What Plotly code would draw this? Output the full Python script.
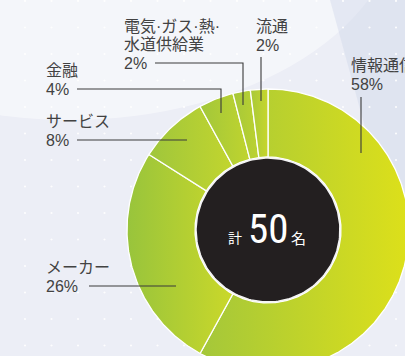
import numpy as np
import plotly.graph_objects as go

# ---- data ----
categories = ["情報通信", "メーカー", "サービス", "金融", "電気・ガス・熱・水道供給業", "流通"]
label_lines = [["情報通信"], ["メーカー"], ["サービス"], ["金融"],
               ["電気·ガス·熱·", "水道供給業"], ["流通"]]
values = [58, 26, 8, 4, 2, 2]
total_people = 50

# ---- style / layout config ----
W, H = 405, 356
CX, CY = 268, 230
R_OUT, R_IN = 141, 73
grad = [("#a4c73a", "#dde01a"), ("#98c43c", "#cad82a"), ("#9fc63c", "#c2d52e"),
        ("#a2c73b", "#c0d42e"), ("#a6c83a", "#bcd230"), ("#a8c93a", "#c6d62c")]
# (x of text, y-center of last (percent) line)
label_pos = [(349, 84), (44, 286), (44, 140), (44, 89), (122, 63), (254, 45)]
LINE_H = 18.5
leaders = [
    [(361, 97), (361, 153)],
    [(89, 286), (176, 286)],
    [(77, 140), (187, 140)],
    [(77, 89), (221, 89), (221, 113)],
    [(155, 63), (243, 63), (243, 105)],
    [(261, 57), (261, 101)],
]
TEXT_COLOR = "#424242"
FONT = "Liberation Sans, Noto Sans CJK JP, sans-serif"
CJK = "Noto Sans CJK JP"

fig = go.Figure()

# background dots
dx = np.arange(25, W, 26.5)
dy = np.arange(1, H, 26.5)
gx, gy = np.meshgrid(dx, dy)
fig.add_trace(go.Scatter(x=gx.ravel(), y=gy.ravel(), mode="markers",
                         marker=dict(size=2.2, color="white"), opacity=0.9,
                         hoverinfo="skip", showlegend=False))

# donut slices (clockwise from top)
frac = np.array(values, dtype=float) / sum(values)
ends = np.cumsum(frac) * 2 * np.pi
starts = ends - frac * 2 * np.pi
for i, (a0, a1) in enumerate(zip(starts, ends)):
    t = np.linspace(a0, a1, max(8, int((a1 - a0) * 80)))
    xo = CX + R_OUT * np.sin(t)
    yo = CY - R_OUT * np.cos(t)
    xi = CX + R_IN * np.sin(t[::-1])
    yi = CY - R_IN * np.cos(t[::-1])
    xs = np.concatenate([xo, xi, xo[:1]])
    ys = np.concatenate([yo, yi, yo[:1]])
    fig.add_trace(go.Scatter(
        x=xs, y=ys, mode="lines", fill="toself",
        line=dict(color="white", width=1.3),
        fillgradient=dict(type="horizontal",
                          colorscale=[[0, grad[i][0]], [1, grad[i][1]]]),
        name=categories[i], hoverinfo="name", showlegend=False))

# inner black circle
tt = np.linspace(0, 2 * np.pi, 200)
fig.add_trace(go.Scatter(x=CX + (R_IN - 1) * np.sin(tt), y=CY - (R_IN - 1) * np.cos(tt),
                         mode="lines", fill="toself", fillcolor="#231f20",
                         line=dict(color="#f4f4f4", width=1.6),
                         hoverinfo="skip", showlegend=False))

# leader lines
for pts in leaders:
    fig.add_trace(go.Scatter(x=[p[0] for p in pts], y=[p[1] for p in pts], mode="lines",
                             line=dict(color="#3a3a3a", width=1.1),
                             hoverinfo="skip", showlegend=False))

annotations = []
for lines, v, (x, y) in zip(label_lines, values, label_pos):
    all_lines = lines + [f"{v}%"]
    n = len(all_lines)
    for k, txt in enumerate(all_lines):
        annotations.append(dict(x=x, y=y - (n - 1 - k) * LINE_H, xref="x", yref="y",
                                text=txt, showarrow=False,
                                xanchor="left", yanchor="middle", align="left",
                                font=dict(family=FONT, size=16, color=TEXT_COLOR)))

# center text
annotations += [
    dict(x=235, y=237, xref="x", yref="y", text="計", showarrow=False,
         font=dict(family=CJK, size=14, color="white")),
    dict(x=268, y=229, xref="x", yref="y", text=str(total_people), showarrow=False,
         font=dict(family="Liberation Sans Narrow, Roboto Condensed, Roboto, sans-serif",
                   size=41, color="white")),
    dict(x=298, y=237, xref="x", yref="y", text="名", showarrow=False,
         font=dict(family=CJK, size=15, color="white")),
]

shapes = [
    dict(type="circle", xref="x", yref="y", x0=-260, y0=-300, x1=400, y1=120,
         fillcolor="rgba(255,255,255,0.45)", line=dict(width=0), layer="below"),
    dict(type="path", xref="x", yref="y",
         path="M 330 0 L 405 0 L 405 230 L 385 200 Z",
         fillcolor="rgba(205,212,232,0.40)", line=dict(width=0), layer="below"),
]

fig.update_layout(
    width=W, height=H, margin=dict(l=0, r=0, t=0, b=0),
    paper_bgcolor="#eceef6", plot_bgcolor="rgba(0,0,0,0)",
    xaxis=dict(range=[0, W], visible=False, fixedrange=True),
    yaxis=dict(range=[H, 0], visible=False, fixedrange=True),
    annotations=annotations, shapes=shapes, showlegend=False,
)

fig.write_html("out.html", config={"displayModeBar": False})
